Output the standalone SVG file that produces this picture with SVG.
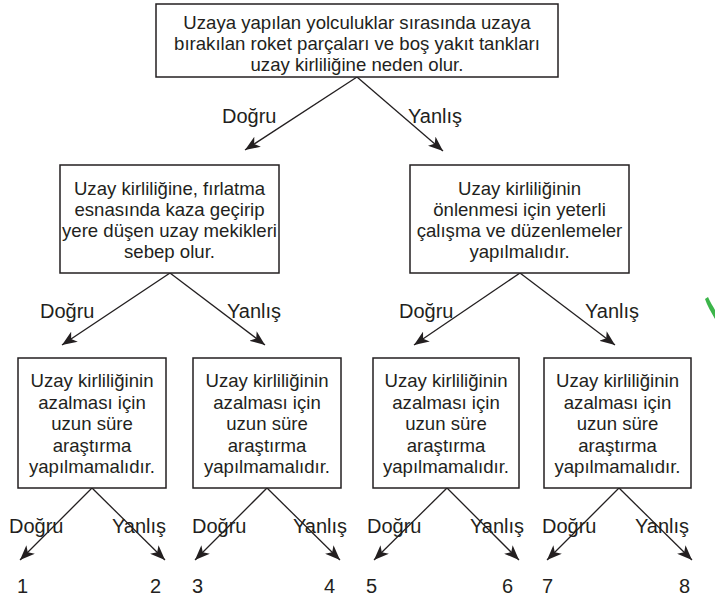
<svg xmlns="http://www.w3.org/2000/svg" width="715" height="599" viewBox="0 0 715 599">
<style>
.box{fill:#fff;stroke:#231f20;stroke-width:1.5}
.t{font-family:"Liberation Sans",Arial,sans-serif;font-size:18.6px;fill:#231f20;text-anchor:middle}
.l{font-family:"Liberation Sans",Arial,sans-serif;font-size:20px;fill:#231f20}
.c{stroke:#231f20;stroke-width:1.3;fill:none;marker-end:url(#ah)}
</style>
<defs>
<marker id="ah" markerUnits="userSpaceOnUse" markerWidth="16" markerHeight="12" refX="15" refY="6" orient="auto" viewBox="0 0 16 12">
<path d="M0,0 L15,6 L0,12 L4,6 Z" fill="#231f20"/>
</marker>
</defs>
<rect width="715" height="599" fill="#fff"/>
<path d="M705,299 L708,297 C710,302 713,306 715,310 L715,319 C711,312 707,305 705,299 Z" fill="#3cb54a"/>
<g id="connectors">
<line class="c" x1="357" y1="77" x2="245" y2="150"/>
<line class="c" x1="357" y1="77" x2="443" y2="151"/>
<line class="c" x1="170" y1="273" x2="62" y2="345"/>
<line class="c" x1="170" y1="273" x2="265" y2="345"/>
<line class="c" x1="520" y1="273" x2="414" y2="345"/>
<line class="c" x1="520" y1="273" x2="615" y2="345"/>
<line class="c" x1="92" y1="488" x2="20" y2="560"/>
<line class="c" x1="92" y1="488" x2="165" y2="560"/>
<line class="c" x1="267" y1="488" x2="195" y2="560"/>
<line class="c" x1="267" y1="488" x2="340" y2="560"/>
<line class="c" x1="447" y1="488" x2="374" y2="560"/>
<line class="c" x1="447" y1="488" x2="519" y2="560"/>
<line class="c" x1="619" y1="488" x2="547" y2="560"/>
<line class="c" x1="619" y1="488" x2="692" y2="560"/>
</g>
<g id="labels">
<text class="l" x="222" y="123">Doğru</text>
<text class="l" x="408" y="123">Yanlış</text>
<text class="l" x="40" y="318">Doğru</text>
<text class="l" x="227" y="318">Yanlış</text>
<text class="l" x="399" y="318">Doğru</text>
<text class="l" x="585" y="318">Yanlış</text>
<text class="l" x="9" y="533">Doğru</text>
<text class="l" x="112" y="533">Yanlış</text>
<text class="l" x="192" y="533">Doğru</text>
<text class="l" x="293" y="533">Yanlış</text>
<text class="l" x="367" y="533">Doğru</text>
<text class="l" x="470" y="533">Yanlış</text>
<text class="l" x="542" y="533">Doğru</text>
<text class="l" x="635" y="533">Yanlış</text>
</g>
<g id="node-top">
<rect class="box" x="156" y="4" width="402" height="73"/>
<text class="t" x="357" y="29">Uzaya yapılan yolculuklar sırasında uzaya</text>
<text class="t" x="357" y="50">bırakılan roket parçaları ve boş yakıt tankları</text>
<text class="t" x="357" y="71">uzay kirliliğine neden olur.</text>
</g>
<g id="node-mid-left">
<rect class="box" x="60" y="165" width="219" height="108"/>
<text class="t" x="169.5" y="195">Uzay kirliliğine, fırlatma</text>
<text class="t" x="169.5" y="216">esnasında kaza geçirip</text>
<text class="t" x="169.5" y="237">yere düşen uzay mekikleri</text>
<text class="t" x="169.5" y="258">sebep olur.</text>
</g>
<g id="node-mid-right">
<rect class="box" x="410" y="165" width="219" height="108"/>
<text class="t" x="519.5" y="195">Uzay kirliliğinin</text>
<text class="t" x="519.5" y="216">önlenmesi için yeterli</text>
<text class="t" x="519.5" y="237">çalışma ve düzenlemeler</text>
<text class="t" x="519.5" y="258">yapılmalıdır.</text>
</g>
<g id="node-b1">
<rect class="box" x="18" y="358" width="148" height="130"/>
<text class="t" x="92" y="387">Uzay kirliliğinin</text>
<text class="t" x="92" y="408.5">azalması için</text>
<text class="t" x="92" y="430">uzun süre</text>
<text class="t" x="92" y="451.5">araştırma</text>
<text class="t" x="92" y="473">yapılmamalıdır.</text>
</g>
<g id="node-b2">
<rect class="box" x="193" y="358" width="148" height="130"/>
<text class="t" x="267" y="387">Uzay kirliliğinin</text>
<text class="t" x="267" y="408.5">azalması için</text>
<text class="t" x="267" y="430">uzun süre</text>
<text class="t" x="267" y="451.5">araştırma</text>
<text class="t" x="267" y="473">yapılmamalıdır.</text>
</g>
<g id="node-b3">
<rect class="box" x="373" y="358" width="146" height="130"/>
<text class="t" x="446" y="387">Uzay kirliliğinin</text>
<text class="t" x="446" y="408.5">azalması için</text>
<text class="t" x="446" y="430">uzun süre</text>
<text class="t" x="446" y="451.5">araştırma</text>
<text class="t" x="446" y="473">yapılmamalıdır.</text>
</g>
<g id="node-b4">
<rect class="box" x="544" y="358" width="147" height="130"/>
<text class="t" x="617.5" y="387">Uzay kirliliğinin</text>
<text class="t" x="617.5" y="408.5">azalması için</text>
<text class="t" x="617.5" y="430">uzun süre</text>
<text class="t" x="617.5" y="451.5">araştırma</text>
<text class="t" x="617.5" y="473">yapılmamalıdır.</text>
</g>
<g id="outcomes">
<text class="l" x="17" y="593">1</text>
<text class="l" x="150" y="593">2</text>
<text class="l" x="192" y="593">3</text>
<text class="l" x="324" y="593">4</text>
<text class="l" x="366" y="593">5</text>
<text class="l" x="502" y="593">6</text>
<text class="l" x="542" y="593">7</text>
<text class="l" x="679" y="593">8</text>
</g>
</svg>
